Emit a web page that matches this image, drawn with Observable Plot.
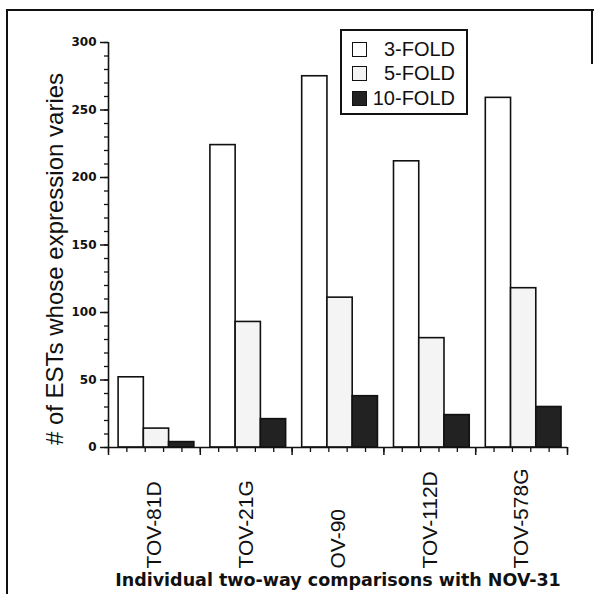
<!DOCTYPE html>
<html>
<head>
<meta charset="utf-8">
<script src="https://cdn.jsdelivr.net/npm/d3@7"></script>
<script src="https://cdn.jsdelivr.net/npm/@observablehq/plot@0.6"></script>
<style>
  html, body { margin: 0; padding: 0; background: #fff; }
  #wrap { position: relative; width: 594px; height: 594px; overflow: hidden; background: #fff; }
  #wrap svg { position: absolute; left: 0; top: 0; }
  .frame-top { position: absolute; left: 6px; top: 9px; width: 588px; height: 0; border-top: 2px solid #111; }
  .frame-left { position: absolute; left: 6px; top: 9px; width: 0; height: 590px; border-left: 2px solid #111; }
  .frame-right { position: absolute; left: 591px; top: 9px; width: 0; height: 55px; border-left: 2px solid #111; }
  #legend { position: absolute; left: 340px; top: 29px; width: 124px; height: 82px; border: 2px solid #111; background: #fff;
            font-family: "Liberation Sans", Arial, sans-serif; font-size: 20px; color: #111; }
  #legend .row { position: absolute; left: 10px; right: 11px; height: 25px; display: flex; align-items: center; }
  #legend .sw { width: 13px; height: 13px; border: 1.5px solid #111; }
  #legend .lab { margin-left: auto; line-height: 25px; }
</style>
</head>
<body>
<div id="wrap">
  <div class="frame-top"></div>
  <div class="frame-left"></div>
  <div class="frame-right"></div>
</div>
<script>
// ---- data ----
const categories = ["TOV-81D", "TOV-21G", "OV-90", "TOV-112D", "TOV-578G"];
const series = ["3-FOLD", "5-FOLD", "10-FOLD"];
const fold3 = [52, 224, 275, 212, 259];
const fold5 = [14, 93, 111, 81, 118];
const fold10 = [4, 21, 38, 24, 30];
const yTicks = [0, 50, 100, 150, 200, 250, 300];
const yMinorTicks = d3.range(0, 301, 10);
const yTitle = "# of ESTs whose expression varies";
const xTitle = "Individual two-way comparisons with NOV-31";
const seriesColors = ["#ffffff", "#f4f4f4", "#222222"];

// ---- build table ----
const seriesValues = [fold3, fold5, fold10];
const table = categories.flatMap((c, i) =>
  series.map((s, j) => ({ category: c, gi: i, si: j, series: s, value: seriesValues[j][i] }))
);

const OFF = 0.11;   // gap before the first bar in a group (in group units)
const BAR = 0.275;  // bar width (in group units)
const xMinor = d3.range(categories.length * 5 + 1).map(k => k / 5);
const xMajor = d3.range(categories.length + 1);

const chart = Plot.plot({
  width: 594,
  height: 594,
  marginLeft: 108,
  marginRight: 27,
  marginTop: 42,
  marginBottom: 147,
  x: { domain: [0, categories.length], axis: null, label: null },
  y: { domain: [0, 300], axis: null, label: null },
  color: { domain: series, range: seriesColors },
  style: { background: "transparent", color: "#111", fontFamily: "'Liberation Sans', Arial, sans-serif" },
  marks: [
    Plot.rectY(table, {
      x1: d => d.gi + OFF + d.si * BAR,
      x2: d => d.gi + OFF + (d.si + 1) * BAR,
      y1: 0,
      y2: "value",
      fill: "series",
      stroke: "#111",
      strokeWidth: 1.6
    }),
    Plot.ruleX([0], { stroke: "#111", strokeWidth: 1.6 }),
    Plot.ruleY([0], { stroke: "#111", strokeWidth: 1.6 }),
    Plot.axisY({ ticks: yMinorTicks, tickSize: 4, tickFormat: () => "", label: null, strokeWidth: 1.3 }),
    Plot.axisY({ ticks: yTicks, tickSize: 8, tickPadding: 4, label: null, strokeWidth: 1.5,
                 fontSize: 12, fontWeight: "bold", fontFamily: "'DejaVu Sans', sans-serif" }),
    Plot.axisX({ ticks: xMinor, tickSize: 5, tickFormat: () => "", label: null, strokeWidth: 1.3 }),
    Plot.axisX({ ticks: xMajor, tickSize: 8, tickFormat: () => "", label: null, strokeWidth: 1.5 }),
    Plot.text(categories, {
      x: (d, i) => i + 0.5,
      frameAnchor: "bottom",
      rotate: -90,
      textAnchor: "start",
      lineAnchor: "middle",
      dy: 121,
      fontSize: 21,
      text: d => d
    }),
    Plot.text([yTitle], {
      frameAnchor: "left",
      rotate: -90,
      textAnchor: "middle",
      lineAnchor: "middle",
      dx: -53,
      dy: 14,
      fontSize: 24,
      text: d => d
    }),
    Plot.text([xTitle], {
      frameAnchor: "bottom",
      textAnchor: "middle",
      lineAnchor: "middle",
      dy: 133,
      fontSize: 17.5,
      fontWeight: "bold",
      fontFamily: "'DejaVu Sans', sans-serif",
      text: d => d
    })
  ]
});

const wrap = document.getElementById("wrap");
wrap.insertBefore(chart, wrap.firstChild);

// ---- legend (overlay inside plot area) ----
const legend = document.createElement("div");
legend.id = "legend";
const rowTops = [6, 30, 55];
series.forEach((s, j) => {
  const row = document.createElement("div");
  row.className = "row";
  row.style.top = rowTops[j] + "px";
  const sw = document.createElement("div");
  sw.className = "sw";
  sw.style.background = seriesColors[j];
  const lab = document.createElement("span");
  lab.className = "lab";
  lab.textContent = s;
  row.appendChild(sw);
  row.appendChild(lab);
  legend.appendChild(row);
});
wrap.appendChild(legend);
</script>
</body>
</html>
